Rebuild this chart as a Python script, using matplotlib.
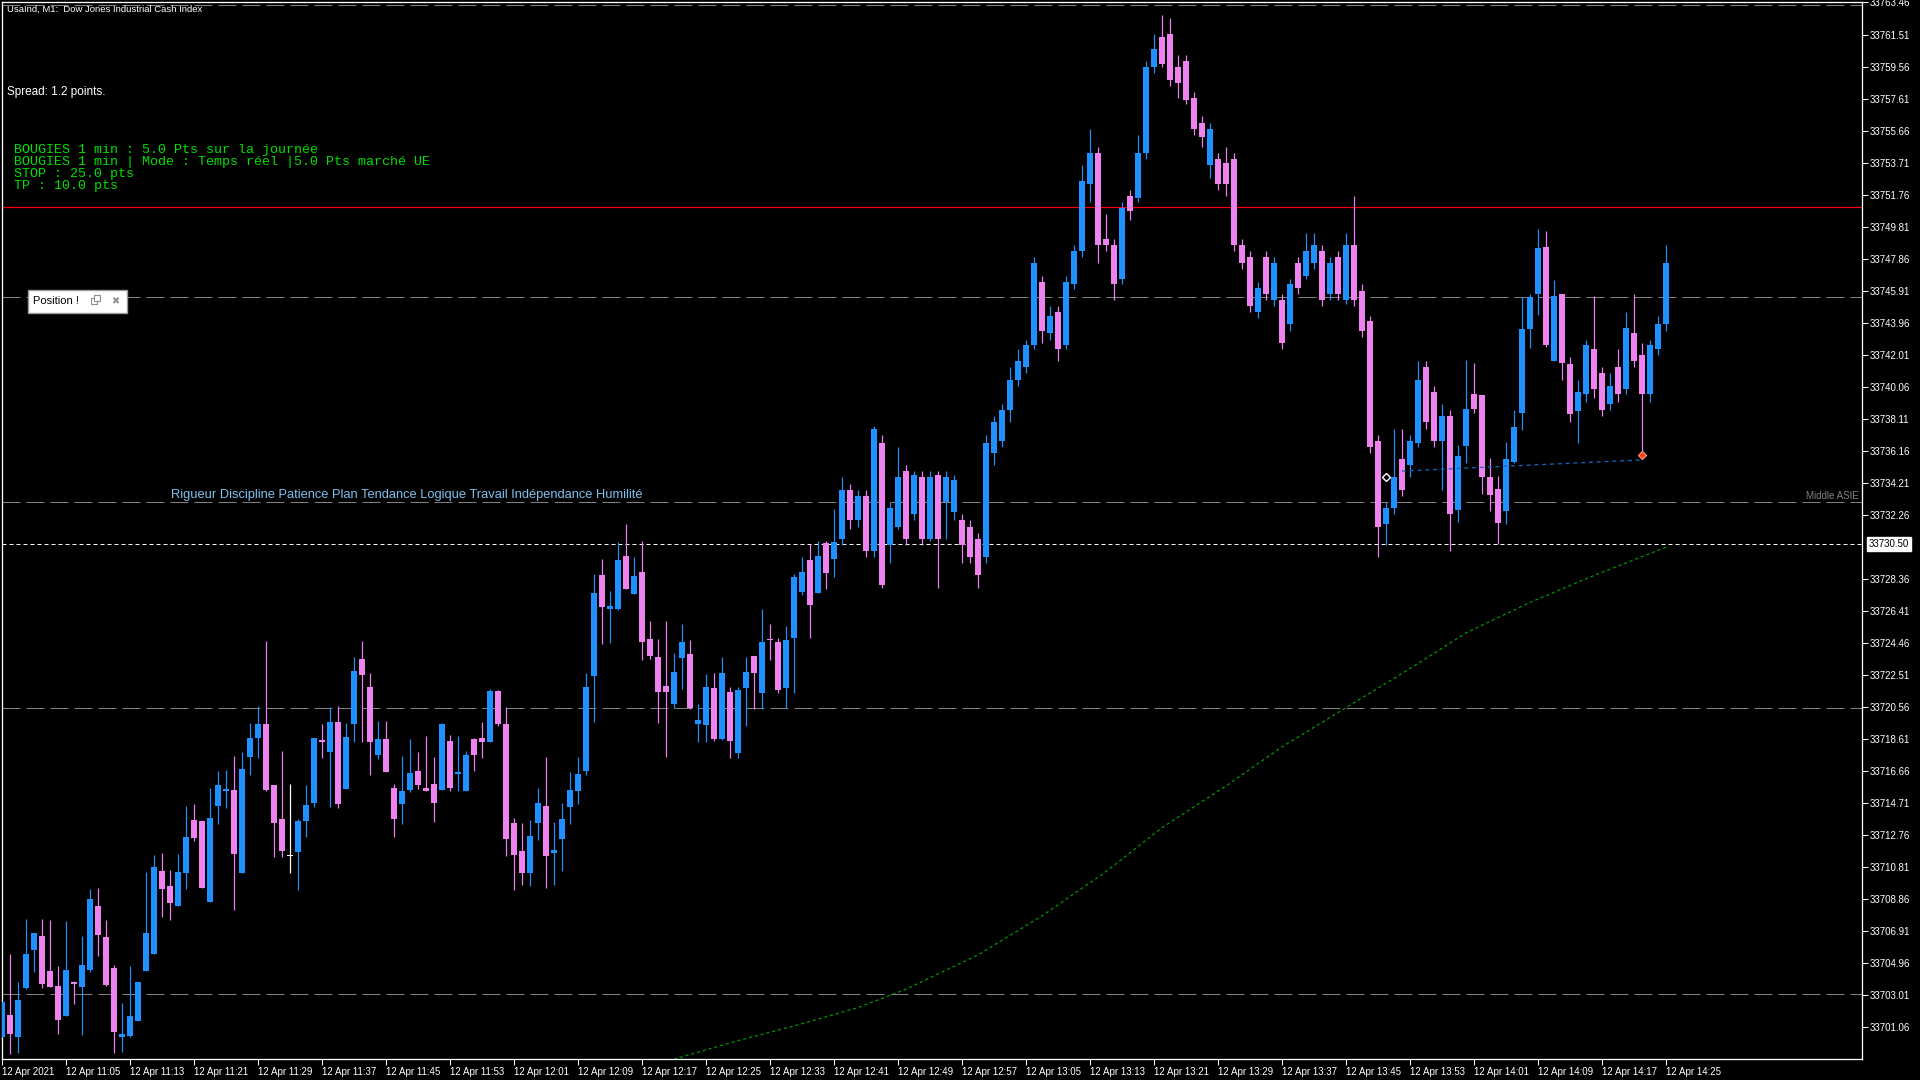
import matplotlib
matplotlib.use('Agg')
import matplotlib.pyplot as plt
import matplotlib.transforms as mtransforms
from matplotlib.patches import Rectangle
import numpy as np

plt.rcParams['font.family'] = ['Liberation Sans', 'DejaVu Sans']

# UsaInd M1 candles, 10:57 -> 14:25 (one bar per minute)
opens = [
    33700.47, 33701.79, 33700.47, 33703.43, 33705.75, 33706.60, 33704.47, 33703.56, 33701.73, 33703.82,
    33703.49, 33704.53, 33708.43, 33706.54, 33704.65, 33700.45, 33700.51, 33701.42, 33704.47, 33705.51,
    33710.56, 33709.65, 33708.43, 33710.44, 33713.67, 33713.61, 33708.67, 33714.52, 33715.44, 33715.50,
    33710.44, 33717.51, 33718.66, 33719.52, 33715.80, 33713.73, 33711.48, 33711.72, 33713.61, 33714.70,
    33718.54, 33717.81, 33719.64, 33715.56, 33719.52, 33723.47, 33721.77, 33717.63, 33718.60, 33715.62,
    33714.64, 33715.50, 33716.65, 33715.62, 33715.86, 33715.50, 33718.48, 33716.47, 33715.44, 33718.60,
    33718.66, 33718.42, 33721.53, 33719.52, 33713.49, 33711.78, 33710.44, 33713.49, 33714.52, 33711.66,
    33712.51, 33714.46, 33715.44, 33716.65, 33722.44, 33728.59, 33726.52, 33726.52, 33729.75, 33727.44,
    33728.78, 33724.69, 33723.60, 33721.83, 33720.74, 33723.54, 33723.78, 33719.52, 33719.46, 33721.71,
    33718.60, 33721.47, 33717.75, 33721.71, 33723.66, 33721.41, 33724.69, 33724.51, 33721.71, 33724.76,
    33727.56, 33729.51, 33727.50, 33730.54, 33729.57, 33730.80, 33733.78, 33731.92, 33733.41, 33730.05,
    33736.62, 33730.43, 33731.54, 33734.90, 33732.29, 33734.53, 33730.80, 33734.68, 33733.04, 33732.44,
    33731.92, 33731.54, 33730.80, 33729.68, 33736.02, 33736.76, 33738.63, 33740.49, 33741.24, 33742.58,
    33746.46, 33743.33, 33744.59, 33742.58, 33746.31, 33748.32, 33752.42, 33754.29, 33749.07, 33748.70,
    33746.61, 33751.68, 33751.53, 33754.29, 33759.51, 33761.37, 33761.52, 33759.51, 33759.88, 33757.64,
    33756.15, 33753.54, 33753.92, 33753.69, 33753.92, 33748.70, 33747.95, 33744.59, 33747.95, 33745.34,
    33745.34, 33743.85, 33747.58, 33746.83, 33747.58, 33748.32, 33745.71, 33747.95, 33745.34, 33748.70,
    33745.86, 33744.07, 33736.76, 33731.69, 33732.66, 33735.65, 33735.27, 33736.62, 33741.24, 33739.75,
    33736.76, 33738.26, 33732.55, 33736.45, 33739.61, 33739.55, 33734.56, 33733.83, 33732.49, 33735.47,
    33738.46, 33743.57, 33745.70, 33748.57, 33741.62, 33745.70, 33741.46, 33738.55, 33739.60, 33742.36,
    33740.87, 33739.00, 33741.24, 33739.90, 33743.33, 33741.98, 33739.60, 33742.36, 33743.85,
]
highs = [
    33702.58, 33705.51, 33703.80, 33707.64, 33706.78, 33707.64, 33707.58, 33704.77, 33707.51, 33703.88,
    33706.60, 33709.46, 33709.52, 33707.58, 33704.84, 33702.52, 33704.77, 33703.80, 33710.50, 33711.53,
    33711.66, 33710.62, 33711.60, 33714.52, 33714.64, 33713.61, 33715.61, 33716.65, 33716.71, 33717.57,
    33717.81, 33719.58, 33720.61, 33724.57, 33715.80, 33717.87, 33715.86, 33713.73, 33715.80, 33718.66,
    33719.52, 33720.55, 33720.61, 33719.58, 33723.60, 33724.57, 33722.62, 33719.70, 33719.70, 33715.86,
    33717.57, 33718.60, 33717.81, 33718.79, 33717.51, 33719.58, 33718.85, 33718.79, 33717.87, 33718.66,
    33719.64, 33721.65, 33721.59, 33720.55, 33713.79, 33713.49, 33713.67, 33715.62, 33717.51, 33713.55,
    33714.70, 33716.59, 33717.51, 33722.62, 33728.65, 33729.56, 33727.62, 33730.60, 33731.70, 33729.69,
    33730.66, 33725.79, 33724.69, 33725.79, 33723.84, 33725.61, 33724.63, 33720.74, 33722.56, 33722.62,
    33723.60, 33721.77, 33721.77, 33723.60, 33723.66, 33726.52, 33725.61, 33724.76, 33725.49, 33728.65,
    33729.69, 33730.48, 33730.66, 33730.66, 33732.61, 33734.53, 33734.15, 33733.78, 33733.78, 33737.66,
    33737.14, 33733.04, 33736.39, 33735.27, 33734.90, 33734.90, 33734.90, 33734.90, 33734.90, 33734.68,
    33732.29, 33731.92, 33731.17, 33737.14, 33738.26, 33739.00, 33741.24, 33742.36, 33742.88, 33747.95,
    33746.83, 33744.97, 33744.97, 33746.83, 33748.70, 33753.54, 33755.78, 33754.66, 33750.56, 33749.07,
    33751.31, 33752.05, 33755.41, 33759.88, 33761.52, 33762.72, 33762.49, 33760.25, 33760.25, 33758.02,
    33756.53, 33756.15, 33754.29, 33754.66, 33754.29, 33749.07, 33748.32, 33746.46, 33748.32, 33747.95,
    33745.71, 33746.61, 33747.95, 33749.44, 33749.44, 33748.70, 33747.95, 33748.32, 33749.44, 33751.68,
    33746.31, 33744.37, 33737.14, 33733.04, 33737.51, 33737.51, 33737.14, 33741.61, 33741.61, 33740.12,
    33739.00, 33738.63, 33736.50, 33741.68, 33741.50, 33739.55, 33735.72, 33734.62, 33736.69, 33738.64,
    33745.52, 33745.70, 33749.66, 33749.54, 33746.56, 33745.70, 33741.84, 33740.49, 33742.88, 33745.56,
    33741.24, 33740.87, 33742.36, 33744.59, 33745.71, 33742.73, 33742.88, 33744.37, 33748.70,
]
lows = [
    33700.47, 33699.42, 33699.50, 33703.37, 33704.41, 33703.43, 33703.49, 33700.63, 33701.73, 33702.46,
    33700.57, 33704.41, 33705.38, 33703.56, 33699.48, 33699.54, 33700.45, 33701.42, 33704.47, 33705.51,
    33707.76, 33707.58, 33708.43, 33709.46, 33712.39, 33709.52, 33708.67, 33713.43, 33714.40, 33708.19,
    33710.44, 33716.41, 33717.45, 33715.44, 33711.42, 33711.42, 33710.44, 33709.41, 33712.63, 33714.46,
    33717.45, 33714.46, 33714.40, 33715.56, 33718.42, 33718.42, 33716.41, 33717.38, 33716.59, 33712.63,
    33713.43, 33715.38, 33715.56, 33715.44, 33713.55, 33715.50, 33715.44, 33715.44, 33715.44, 33716.65,
    33717.45, 33718.42, 33719.39, 33711.48, 33709.41, 33709.71, 33709.65, 33712.45, 33709.53, 33709.71,
    33710.56, 33713.43, 33714.64, 33716.41, 33719.64, 33724.39, 33724.45, 33726.46, 33727.74, 33727.44,
    33723.42, 33723.48, 33719.58, 33717.51, 33720.49, 33721.65, 33720.43, 33718.42, 33718.42, 33718.48,
    33718.54, 33717.45, 33717.45, 33719.40, 33720.43, 33720.43, 33723.42, 33721.41, 33720.49, 33721.41,
    33727.37, 33724.76, 33727.50, 33727.74, 33728.47, 33730.43, 33731.40, 33731.54, 33729.68, 33729.68,
    33727.82, 33729.31, 33731.40, 33730.43, 33731.92, 33730.43, 33730.65, 33727.82, 33730.80, 33731.92,
    33729.31, 33729.31, 33727.82, 33729.31, 33735.27, 33736.39, 33737.88, 33740.12, 33740.87, 33742.36,
    33742.73, 33742.88, 33741.61, 33742.36, 33746.01, 33747.95, 33751.31, 33747.58, 33748.32, 33745.34,
    33746.31, 33750.19, 33751.31, 33753.92, 33759.14, 33759.51, 33758.39, 33757.64, 33757.27, 33755.41,
    33754.66, 33752.80, 33752.05, 33751.68, 33748.32, 33747.20, 33744.59, 33744.22, 33745.34, 33744.97,
    33742.36, 33743.48, 33745.71, 33746.61, 33747.20, 33744.97, 33745.34, 33745.34, 33745.12, 33744.97,
    33743.10, 33736.02, 33729.68, 33730.43, 33732.29, 33733.41, 33734.53, 33736.39, 33737.51, 33736.39,
    33733.78, 33730.05, 33731.80, 33735.41, 33738.47, 33733.53, 33732.49, 33730.48, 33731.70, 33735.41,
    33737.42, 33742.42, 33744.43, 33742.48, 33741.62, 33740.46, 33737.88, 33736.62, 33739.15, 33739.37,
    33738.26, 33738.63, 33739.15, 33739.60, 33741.24, 33735.87, 33739.15, 33741.98, 33743.48,
]
closes = [
    33702.58, 33700.63, 33702.70, 33705.51, 33706.78, 33703.68, 33703.49, 33701.49, 33704.53, 33703.70,
    33704.84, 33708.85, 33706.66, 33703.62, 33700.75, 33700.63, 33701.73, 33703.80, 33706.78, 33710.80,
    33709.46, 33708.61, 33710.50, 33712.63, 33712.57, 33709.52, 33713.79, 33715.80, 33715.56, 33711.60,
    33716.78, 33718.66, 33719.52, 33715.50, 33713.49, 33711.78, 33711.48, 33713.61, 33714.58, 33718.66,
    33718.42, 33719.64, 33714.64, 33718.72, 33722.74, 33722.50, 33718.42, 33718.60, 33716.59, 33713.73,
    33715.44, 33716.53, 33715.80, 33715.44, 33714.70, 33719.52, 33715.62, 33716.59, 33717.63, 33717.63,
    33718.42, 33721.53, 33719.52, 33712.51, 33711.54, 33710.44, 33712.70, 33714.70, 33711.48, 33711.84,
    33713.73, 33715.50, 33716.47, 33721.77, 33727.49, 33726.64, 33726.70, 33729.50, 33727.74, 33728.53,
    33724.51, 33723.66, 33721.47, 33721.47, 33722.68, 33724.51, 33720.49, 33719.76, 33721.77, 33718.60,
    33722.62, 33718.48, 33721.59, 33722.68, 33722.62, 33724.51, 33724.63, 33721.59, 33724.63, 33728.47,
    33728.78, 33726.77, 33729.75, 33728.71, 33730.60, 33733.78, 33731.92, 33733.41, 33730.05, 33737.51,
    33727.96, 33732.66, 33734.53, 33730.80, 33734.68, 33730.80, 33734.53, 33730.80, 33734.53, 33734.38,
    33730.43, 33729.68, 33728.56, 33736.62, 33737.88, 33738.63, 33740.49, 33741.61, 33742.58, 33747.58,
    33743.48, 33744.37, 33742.36, 33746.46, 33748.32, 33752.57, 33754.29, 33748.70, 33748.70, 33746.31,
    33750.93, 33750.78, 33754.29, 33759.51, 33760.63, 33759.73, 33758.76, 33758.54, 33757.50, 33755.78,
    33755.26, 33755.78, 33752.42, 33752.42, 33748.70, 33747.58, 33744.97, 33746.09, 33745.71, 33747.58,
    33742.73, 33746.31, 33746.09, 33748.32, 33748.70, 33745.34, 33747.58, 33745.71, 33748.70, 33745.34,
    33743.48, 33736.39, 33731.54, 33732.66, 33734.53, 33733.78, 33736.76, 33740.49, 33737.88, 33736.76,
    33738.26, 33732.29, 33735.82, 33738.70, 33738.70, 33734.56, 33733.46, 33731.76, 33735.66, 33737.60,
    33743.57, 33745.52, 33748.51, 33742.60, 33745.58, 33741.50, 33738.40, 33739.75, 33742.58, 33739.90,
    33738.63, 33740.12, 33739.60, 33743.62, 33741.61, 33739.60, 33742.58, 33743.85, 33747.58,
]

time_labels = [
    '12 Apr 2021', '12 Apr 11:05', '12 Apr 11:13', '12 Apr 11:21', '12 Apr 11:29',
    '12 Apr 11:37', '12 Apr 11:45', '12 Apr 11:53', '12 Apr 12:01', '12 Apr 12:09',
    '12 Apr 12:17', '12 Apr 12:25', '12 Apr 12:33', '12 Apr 12:41', '12 Apr 12:49',
    '12 Apr 12:57', '12 Apr 13:05', '12 Apr 13:13', '12 Apr 13:21', '12 Apr 13:29',
    '12 Apr 13:37', '12 Apr 13:45', '12 Apr 13:53', '12 Apr 14:01', '12 Apr 14:09',
    '12 Apr 14:17', '12 Apr 14:25',
]

price_ticks = [
    33763.46, 33761.51, 33759.56, 33757.61, 33755.66, 33753.71, 33751.76, 33749.81,
    33747.86, 33745.91, 33743.96, 33742.01, 33740.06, 33738.11, 33736.16, 33734.21,
    33732.26, 33728.36, 33726.41, 33724.46, 33722.51, 33720.56, 33718.61, 33716.66,
    33714.71, 33712.76, 33710.81, 33708.86, 33706.91, 33704.96, 33703.01, 33701.06,
]

grey_levels = [33763.30, 33745.50, 33733.02, 33720.47, 33703.06]
red_level = 33751.02
bid_price = 33730.50

# moving average (green dotted), read at a few bars
ma_bars = [84, 92, 99, 107, 113, 122, 130, 138, 145, 153, 160, 168, 176, 183, 191, 199, 208]
ma_vals = [33699.10, 33700.23, 33701.12, 33702.24, 33703.36, 33705.45, 33707.83, 33710.52,
           33713.20, 33715.74, 33718.12, 33720.51, 33722.89, 33725.06, 33726.92, 33728.56, 33730.28]

# trade markers and the blue link line
trend_bars = [175, 205]
trend_vals = [33734.92, 33735.60]
entry_bar, entry_price = 173, 33734.53
exit_bar, exit_price = 205, 33735.87

W, H = 1920, 1080
PX = 0.72  # one pixel in points at dpi 100


def fx(p):
    return p / W


def fy(p):
    return 1 - p / H


fig = plt.figure(figsize=(19.2, 10.8), dpi=100, facecolor='black')
ax = fig.add_axes([fx(2), fy(1059), 1860 / W, (1059 - 1.5) / H])
ax.set_facecolor('black')
ax.set_xlim(0, 232.5)
ax.set_ylim(33699.11, 33763.52)

o = np.array(opens)
h = np.array(highs)
l = np.array(lows)
c = np.array(closes)
x = np.arange(len(o))
cols = np.where(c > o, '#1E90FF', np.where(c < o, '#EE82EE', '#FFFFFF'))

for lv in grey_levels:
    ax.axhline(lv, color='#808080', lw=PX, dashes=(18, 6), zorder=1)
ax.axhline(red_level, color='#FF0000', lw=PX * 1.2, zorder=1)
ax.axhline(bid_price, color='white', lw=PX, dashes=(4, 3), zorder=1)
ax.plot(ma_bars, ma_vals, color='#00A000', lw=PX * 1.2, dashes=(2.5, 2.5), zorder=1)

ax.vlines(x, l, h, colors=cols, lw=PX * 1.2, zorder=3)
body_lo = np.minimum(o, c)
body_h = np.maximum(np.abs(c - o), 0.07)
ax.bar(x, body_h, bottom=body_lo, width=0.64, color=cols, lw=0, zorder=4)

ax.plot(trend_bars, trend_vals, color='#1565C0', lw=PX * 1.3, dashes=(3, 3), zorder=5)
ax.plot(entry_bar, entry_price, marker='D', ms=4, mfc='black', mec='white', mew=1, zorder=6)
ax.plot(exit_bar, exit_price, marker='D', ms=4, mfc='#FF3A1A', mec='#FFA080', mew=0.8, zorder=6)

for sp in ax.spines.values():
    sp.set_color('white')
    sp.set_linewidth(PX * 1.3)

ax.yaxis.tick_right()
ax.set_yticks(price_ticks)
ax.set_yticklabels([f'{p:.2f}' for p in price_ticks])
ax.tick_params(axis='y', colors='white', labelcolor='white', length=4, width=PX,
               pad=1.5, labelsize=7)
ax.set_xticks(np.arange(0, 209, 8))
ax.set_xticklabels(time_labels, ha='left')
ax.tick_params(axis='x', colors='white', labelcolor='white', length=4, width=PX,
               pad=2, labelsize=7)

tr = mtransforms.blended_transform_factory(ax.transAxes, ax.transData)
ax.text(1.0035, bid_price, f'{bid_price:.2f}', transform=tr, ha='left', va='center',
        fontsize=7, color='black', clip_on=False, zorder=10,
        bbox=dict(boxstyle='square,pad=0.2', fc='white', ec='white'))

fig.text(fx(7), fy(9.5), 'UsaInd, M1:  Dow Jones Industrial Cash Index', color='white',
         fontsize=6.8, va='center', ha='left')
fig.text(fx(7), fy(91.5), 'Spread: 1.2 points.', color='white', fontsize=8.5, va='center')

green_lines = [
    'BOUGIES 1 min : 5.0 Pts sur la journée',
    'BOUGIES 1 min | Mode : Temps réel |5.0 Pts marché UE',
    'STOP : 25.0 pts',
    'TP : 10.0 pts',
]
for i, line in enumerate(green_lines):
    fig.text(fx(14), fy(150 + 12 * i), line, color='#00E000', fontsize=9.6, va='center',
             family=['Liberation Mono', 'DejaVu Sans Mono'])

fig.text(fx(171), fy(495),
         'Rigueur Discipline Patience Plan Tendance Logique Travail Indépendance Humilité',
         color='#7EC0EE', fontsize=9.3, va='center')
fig.text(fx(1859), fy(496), 'Middle ASIE', color='#808080', fontsize=7, va='center', ha='right')

# floating "Position" panel with its restore / close buttons
fig.patches.append(Rectangle((fx(28), fy(313)), 99 / W, 23 / H, transform=fig.transFigure,
                             fc='white', ec='#9A9A9A', lw=1))
fig.text(fx(33), fy(301.5), 'Position !', color='black', fontsize=8, va='center')
for dx, dy in [(91, 304), (94, 301)]:
    fig.patches.append(Rectangle((fx(dx), fy(dy)), 6 / W, 6 / H, transform=fig.transFigure,
                                 fc='white', ec='#909090', lw=0.8))
fig.text(fx(111), fy(301.5), '✖', color='#909090', fontsize=7, va='center',
         family=['DejaVu Sans'])

fig.savefig('out.png', dpi=100, facecolor='black')
